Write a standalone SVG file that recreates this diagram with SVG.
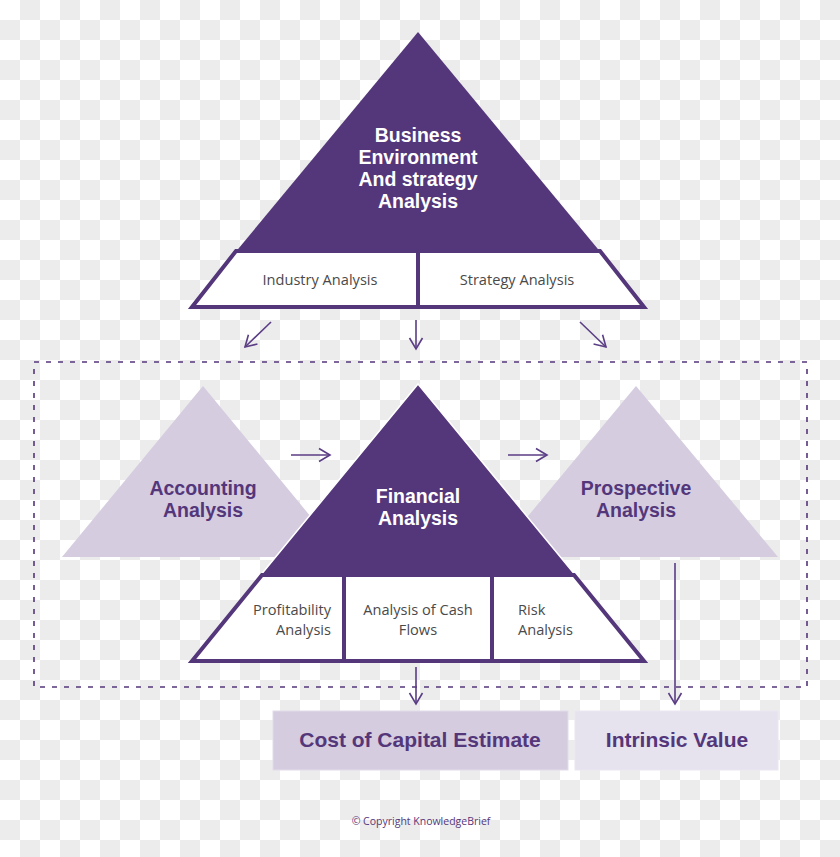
<svg xmlns="http://www.w3.org/2000/svg" width="840" height="857" viewBox="0 0 840 857">
<defs>
<pattern id="cb" width="40" height="40" patternUnits="userSpaceOnUse">
<rect width="40" height="40" fill="#ffffff"/>
<rect x="20" y="0" width="20" height="20" fill="#ececec"/>
<rect x="0" y="20" width="20" height="20" fill="#ececec"/>
</pattern>
<marker id="ah" markerUnits="userSpaceOnUse" markerWidth="16" markerHeight="16" refX="12" refY="8" orient="auto" overflow="visible">
<path d="M1,1.5 L12,8 L1,14.5" fill="none" stroke="#5a3d85" stroke-width="1.6"/>
</marker>
<style>
.dark{fill:#54367a}
.light{fill:#d5cce0}
.trap{fill:#ffffff;stroke:#54367a;stroke-width:4;stroke-linejoin:miter}
.div{stroke:#54367a;stroke-width:4}
.t-w{font-family:"Liberation Sans","Open Sans",sans-serif;font-weight:700;font-size:19.5px;fill:#ffffff;text-anchor:middle}
.t-p{font-family:"Liberation Sans","Open Sans",sans-serif;font-weight:700;font-size:19.5px;fill:#54367a;text-anchor:middle}
.t-b{font-family:"Liberation Sans","Open Sans",sans-serif;font-weight:700;font-size:21px;fill:#54367a;text-anchor:middle}
.t-g{font-family:"Open Sans","Liberation Sans",sans-serif;font-size:14.6px;fill:#4a4a4a}
.conn{fill:none;stroke:#5a3d85;stroke-width:1.6;marker-end:url(#ah)}
</style>
</defs>
<rect width="840" height="857" fill="url(#cb)"/>

<g id="frame">
<rect x="34" y="362" width="773" height="325" fill="none" stroke="#54367a" stroke-width="1.6" stroke-dasharray="5 7"/>
</g>

<g id="business">
<polygon class="dark" points="418,32 190,307 646,307"/>
<polygon class="trap" points="236,251 600,251 644,307 192,307"/>
<line class="div" x1="418" y1="251" x2="418" y2="307"/>
<text class="t-w" x="418" y="142">Business</text>
<text class="t-w" x="418" y="164">Environment</text>
<text class="t-w" x="418" y="186">And strategy</text>
<text class="t-w" x="418" y="208">Analysis</text>
<text class="t-g" x="320" y="285" text-anchor="middle">Industry Analysis</text>
<text class="t-g" x="517" y="285" text-anchor="middle">Strategy Analysis</text>
</g>

<g id="accounting">
<polygon class="light" points="203,386 62,557 344,557"/>
<text class="t-p" x="203" y="495">Accounting</text>
<text class="t-p" x="203" y="517">Analysis</text>
</g>

<g id="prospective">
<polygon class="light" points="636,386 494,557 778,557"/>
<text class="t-p" x="636" y="495">Prospective</text>
<text class="t-p" x="636" y="517">Analysis</text>
</g>

<g id="financial">
<polygon class="dark" points="418,384 190,661 646,661" stroke="#ffffff" stroke-width="1.5"/>
<polygon class="trap" points="262,575 574,575 644,661 192,661"/>
<line class="div" x1="344" y1="575" x2="344" y2="661"/>
<line class="div" x1="492" y1="575" x2="492" y2="661"/>
<text class="t-w" x="418" y="503">Financial</text>
<text class="t-w" x="418" y="525">Analysis</text>
<text class="t-g" x="331" y="615" text-anchor="end">Profitability</text>
<text class="t-g" x="331" y="635" text-anchor="end">Analysis</text>
<text class="t-g" x="418" y="615" text-anchor="middle">Analysis of Cash</text>
<text class="t-g" x="418" y="635" text-anchor="middle">Flows</text>
<text class="t-g" x="518" y="615">Risk</text>
<text class="t-g" x="518" y="635">Analysis</text>
</g>

<g id="cost">
<rect x="273" y="711" width="295" height="59" fill="#d5cce0" stroke="#e2dcea" stroke-width="1"/>
<text class="t-b" x="420" y="747">Cost of Capital Estimate</text>
</g>

<g id="intrinsic">
<rect x="575" y="711" width="203" height="59" fill="#e6e2ee" stroke="#ece8f2" stroke-width="1"/>
<text class="t-b" x="677" y="747">Intrinsic Value</text>
</g>

<g id="connectors">
<line class="conn" x1="271" y1="322" x2="245" y2="347"/>
<line class="conn" x1="416" y1="320" x2="416" y2="349"/>
<line class="conn" x1="580" y1="322" x2="606" y2="347"/>
<line class="conn" x1="291" y1="455" x2="330" y2="455"/>
<line class="conn" x1="508" y1="455" x2="547" y2="455"/>
<line class="conn" x1="416" y1="667" x2="416" y2="704"/>
<line class="conn" x1="675" y1="563" x2="675" y2="704"/>
</g>

<text x="421" y="825" font-family="'Open Sans','Liberation Sans',sans-serif" font-size="10.5" fill="#54367a" text-anchor="middle">© Copyright KnowledgeBrief</text>
</svg>
